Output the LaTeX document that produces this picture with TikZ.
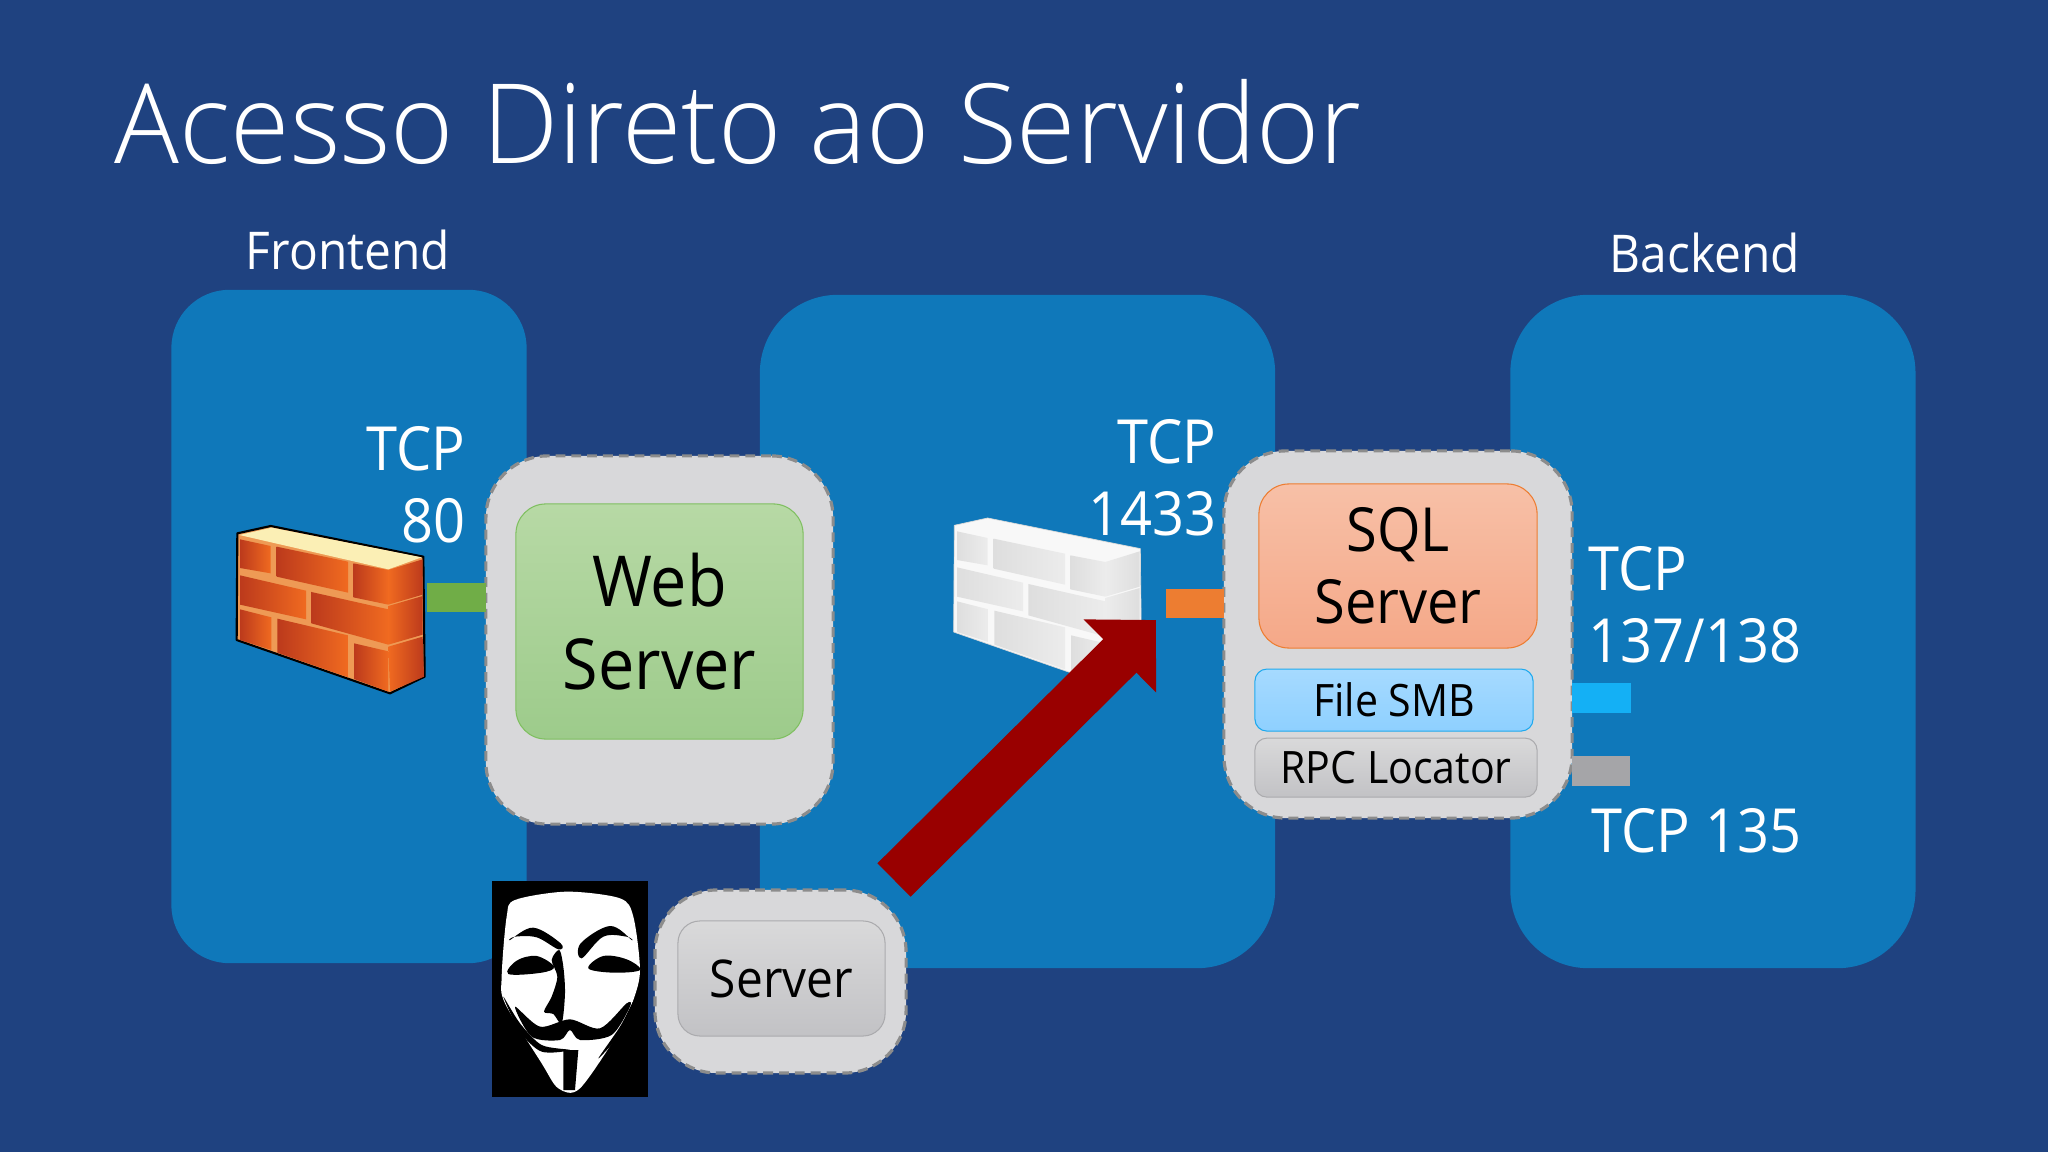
\documentclass[tikz,border=0pt]{standalone}
\usepackage{fontspec}
\setmainfont{Open Sans}[FakeStretch=0.92]
\newfontfamily\lightfont{Open Sans Light}[FakeStretch=0.975]
\usepackage{xcolor}
\usepackage{tikz}
\usetikzlibrary{arrows.meta, positioning}

\definecolor{slidebg}{HTML}{1F4280}
\definecolor{zoneblue}{HTML}{0F78BA}
\definecolor{hostgray}{HTML}{D8D8DA}
\definecolor{dashgray}{HTML}{8C8C8C}
\definecolor{attackred}{HTML}{990000}
\definecolor{redtop}{HTML}{FBEFB5}
\definecolor{redmortar}{HTML}{EE9A55}
\definecolor{reddark}{HTML}{BC3A1C}
\definecolor{redlight}{HTML}{F06A20}
\definecolor{whiteedge}{HTML}{D9D9D9}
\definecolor{whitetop}{HTML}{F8F8F8}
\definecolor{whitedark}{HTML}{DEDEDE}
\definecolor{whitelight}{HTML}{ECECEC}
\definecolor{webtop}{HTML}{B7D9A5}
\definecolor{webbottom}{HTML}{9DCB8B}
\definecolor{webedge}{HTML}{7FBF60}
\definecolor{sqltop}{HTML}{F7C0A7}
\definecolor{sqlbottom}{HTML}{F5A888}
\definecolor{sqledge}{HTML}{ED7D31}
\definecolor{filetop}{HTML}{A6DAFF}
\definecolor{filebottom}{HTML}{8ED0FF}
\definecolor{fileedge}{HTML}{1EA9EE}
\definecolor{rpctop}{HTML}{D9D9DA}
\definecolor{rpcbottom}{HTML}{C2C2C5}
\definecolor{rpcedge}{HTML}{ABABAE}
\definecolor{port80bar}{HTML}{70AD47}
\definecolor{port1433bar}{HTML}{ED7D31}
\definecolor{portsmbbar}{HTML}{14B0F5}
\definecolor{portrpcbar}{HTML}{A5A5A8}

\tikzset{
    pics/brickwall/.style args={#1/#2/#3/#4/#5/#6}{code={
        \fill[#3, draw=#1, line width=#6, line join=round] (112,160) -- (212,138) -- (670,230) -- (674,590) -- (570,640) -- (110,480) -- cycle;
        \fill[#2] (118,165) -- (215,143) -- (665,232) -- (565,268) -- cycle;
        \foreach \pa/\pb/\pc/\pd in {
            {120,178}/{212,198}/{212,280}/{120,264},
            {230,200}/{444,245}/{444,338}/{230,290},
            {460,250}/{565,270}/{565,374}/{460,352},
            {120,286}/{318,332}/{318,418}/{120,374},
            {334,336}/{565,388}/{565,494}/{334,430},
            {120,388}/{214,412}/{214,510}/{120,480},
            {232,416}/{444,466}/{444,592}/{232,518},
            {462,490}/{565,514}/{565,635}/{462,597}}
            \shade[left color=#4, right color=#5] (\pa) -- (\pb) -- (\pc) -- (\pd) -- cycle;
        \foreach \pa/\pb/\pc/\pd in {
            {565,270}/{668,238}/{668,344}/{565,374},
            {565,378}/{668,348}/{668,464}/{565,494},
            {565,500}/{668,470}/{672,590}/{570,635}}
            \shade[left color=#5, right color=#4] (\pa) -- (\pb) -- (\pc) -- (\pd) -- cycle;
    }},
    pics/vmask/.style={code={
        \fill[black] (65,63) rectangle (535,712);
        \fill[white] plot[smooth cycle, tension=0.5] coordinates {(290,95) (450,115) (490,170) (510,330) (490,420) (450,510) (330,685) (265,685) (215,610) (105,430) (95,350) (110,170) (135,120)};
        \fill[black] plot[smooth cycle, tension=0.6] coordinates {(120,240) (190,203) (272,250) (265,268) (200,232) (135,230)};
        \fill[black] plot[smooth cycle, tension=0.6] coordinates {(485,240) (420,198) (332,250) (335,295) (400,230) (470,230)};
        \fill[black] plot[smooth cycle, tension=0.6] coordinates {(115,342) (140,302) (200,288) (252,320) (215,338)};
        \fill[black] plot[smooth cycle, tension=0.6] coordinates {(355,325) (400,288) (470,298) (510,330) (430,338)};
        \fill[black] plot[smooth cycle, tension=0.5] coordinates {(268,270) (245,300) (262,350) (245,410) (222,455) (250,462) (275,490) (285,400) (280,320)};
        \fill[black] plot[smooth cycle, tension=0.5] coordinates {(135,440) (210,500) (300,478) (390,505) (470,430) (480,440) (425,525) (330,540) (300,510) (270,540) (185,530)};
        \fill[black] plot[smooth cycle, tension=0.5] coordinates {(100,410) (150,490) (215,555) (300,570) (215,575) (150,515)};
        \fill[black] plot[smooth cycle, tension=0.5] coordinates {(492,420) (450,500) (385,595) (440,535) (475,470)};
        \fill[black] (280,570) -- (325,570) -- (315,690) -- (280,690) -- cycle;
    }}
}

\begin{document}
\begin{tikzpicture}[
    x=0.01cm, y=-0.01cm,
    zone/.style={rectangle, fill=zoneblue, outer sep=0pt},
    hostbox/.style={rectangle, fill=hostgray, draw=dashgray, line width=0.9pt, dash pattern=on 2.8pt off 1.7pt, rounded corners=0.62cm, outer sep=0pt},
    svcbox/.style={rectangle, draw, line width=0.3pt, align=center, inner sep=0pt, outer sep=0pt, text=black},
    portbar/.style={line width=8.25pt},
    caption/.style={text=white, inner sep=0pt, font=\fontsize{14.8}{18}\selectfont},
    portlabel/.style={text=white, inner sep=0pt, font=\fontsize{17.3}{20.6}\selectfont},
    attack/.style={-{Triangle[length=14.5pt, width=28.4pt]}, line width=13.4pt, draw=attackred}
]

\fill[slidebg] (0,0) rectangle (2048,1152);
\useasboundingbox (0,0) rectangle (2048,1152);

\node[anchor=base west, text=white, inner sep=0pt, font=\lightfont\fontsize{31.5}{38}\selectfont] (title) at (114,164) {Acesso Direto ao Servidor};

\node[zone, rounded corners=0.58cm, minimum width=3.55cm, minimum height=6.73cm] (frontend) at (349,626.5) {};
\node[zone, rounded corners=0.78cm, minimum width=5.15cm, minimum height=6.73cm] (middle) at (1017.5,631.5) {};
\node[zone, rounded corners=0.78cm, minimum width=4.05cm, minimum height=6.73cm, right=2.35cm of middle] (backend) {};

\node[caption] (frontendlabel) at (348,250) {Frontend};
\node[caption] (backendlabel) at (1705,253) {Backend};

\pic[scale=1/3] at (200,480) {brickwall=black/redtop/redmortar/reddark/redlight/0.6pt};
\pic[scale=1/3] at (917,472) {brickwall=whiteedge/whitetop/whitetop/whitedark/whitelight/0.2pt};
\pic[scale=1/3] at (470,860) {vmask};

\node[hostbox, minimum width=3.47cm, minimum height=3.68cm] (webhost) at (659.5,640) {};
\node[svcbox, draw=webedge, top color=webtop, bottom color=webbottom, rounded corners=0.3cm, minimum width=2.87cm, minimum height=2.35cm, font=\fontsize{20}{23.8}\selectfont] (webcore) at (659.5,621.5) {Web\\Server};

\node[hostbox, minimum width=3.48cm, minimum height=3.67cm] (sqlhost) at (1398,634.5) {};
\node[svcbox, draw=sqledge, top color=sqltop, bottom color=sqlbottom, rounded corners=0.3cm, minimum width=2.78cm, minimum height=1.64cm, font=\fontsize{17.3}{20.6}\selectfont] (sqlcore) at (1398,566) {SQL\\Server};
\node[svcbox, draw=fileedge, top color=filetop, bottom color=filebottom, rounded corners=0.12cm, minimum width=2.78cm, minimum height=0.62cm, font=\fontsize{12.7}{16}\selectfont, below=0.21cm of sqlcore, xshift=-0.04cm] (sqlfile) {File SMB};
\node[svcbox, draw=rpcedge, top color=rpctop, bottom color=rpcbottom, rounded corners=0.12cm, minimum width=2.82cm, minimum height=0.59cm, font=\fontsize{12.7}{16}\selectfont, below=0.07cm of sqlfile, xshift=0.02cm] (sqlrpc) {RPC Locator};

\node[hostbox, minimum width=2.51cm, minimum height=1.83cm] (attacker) at (780.5,981.5) {};
\node[svcbox, draw=rpcedge, top color=rpctop, bottom color=rpcbottom, rounded corners=0.22cm, minimum width=2.07cm, minimum height=1.15cm, font=\fontsize{14.8}{18}\selectfont] (attackercore) at (781.5,978.5) {Server};

\coordinate (port80) at (427,597.5);
\coordinate (port1433) at (1166,603.5);
\coordinate (portsmb) at (1631,698);
\coordinate (portrpc) at (1630,771);
\coordinate (attackfrom) at (894,880);
\coordinate (attackto) at (1156,620);

\draw[portbar, draw=port80bar] (port80) -- (port80 -| webhost.west);
\draw[portbar, draw=port1433bar] (port1433) -- (port1433 -| sqlhost.west);
\draw[portbar, draw=portsmbbar] (portsmb -| sqlhost.east) -- (portsmb);
\draw[portbar, draw=portrpcbar] (portrpc -| sqlhost.east) -- (portrpc);
\draw[attack] (attackfrom) -- (attackto);

\node[portlabel, align=right, anchor=east] (tcpweb) at (466,485) {TCP\\80};
\node[portlabel, align=right, anchor=east] (tcpsql) at (1217,478) {TCP\\1433};
\node[portlabel, align=left, anchor=west] (tcpfile) at (1588,605) {TCP\\137/138};
\node[portlabel, anchor=west] (tcprpc) at (1591,831) {TCP 135};

\end{tikzpicture}
\end{document}
